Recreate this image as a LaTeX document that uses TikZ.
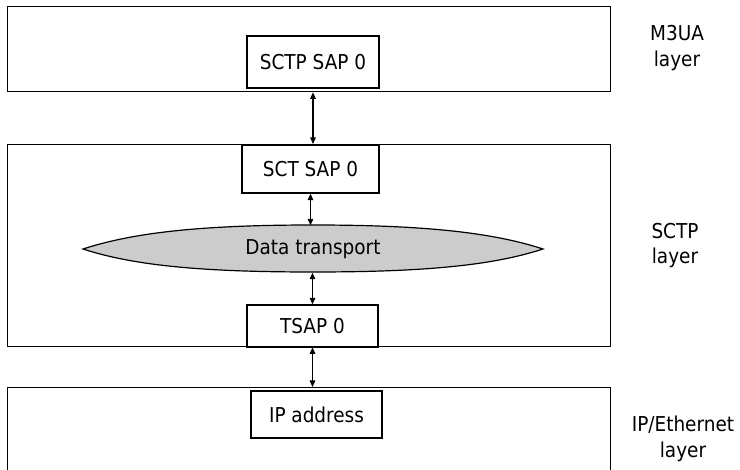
\documentclass[tikz,border=0pt]{standalone}
\usepackage{fontspec}
\setmainfont{DejaVu Sans Condensed}
\usetikzlibrary{arrows.meta}
\begin{document}
\begin{tikzpicture}[x=1pt,y=-1pt,
  font=\fontsize{20.5}{24}\selectfont,
  layerbox/.style={draw, line width=1.3pt, anchor=north west, inner sep=0pt},
  sapbox/.style={draw, line width=1.3pt, inner sep=0pt, fill=white},
  link/.style={{Triangle[length=6.5pt,width=5.5pt]}-{Triangle[length=6.5pt,width=5.5pt]}, line width=1.2pt},
  side/.style={align=center, anchor=base, font=\fontsize{20.5}{25.8}\selectfont}]
\clip (0,0) rectangle (740,470);

% protocol layers
\node[layerbox, minimum width=603pt, minimum height=85pt]  (m3ua)    at (7,6)   {};
\node[layerbox, minimum width=603pt, minimum height=202pt] (sctp)    at (7,144) {};
\node[layerbox, minimum width=603pt, minimum height=100pt] (iplayer) at (7,387) {};

% data transport lens
\path[draw, fill=black!20, line width=1.2pt]
  (83,249) .. controls (135,232) and (205,225) .. (313,225)
  .. controls (421,225) and (491,232) .. (543,249)
  .. controls (491,266) and (421,272) .. (313,272)
  .. controls (205,272) and (135,266) .. (83,249) -- cycle;
\node[minimum width=460pt, minimum height=47pt, inner sep=0pt] (dt) at (313,249) {Data transport};

% service access points
\node[sapbox, minimum width=132pt, minimum height=52pt] (sctpsap) at (313,62)    {SCTP SAP 0};
\node[sapbox, minimum width=137pt, minimum height=48pt] (sctsap)  at (310.5,169) {SCT SAP 0};
\node[sapbox, minimum width=131pt, minimum height=42pt] (tsap)    at (312.5,326) {TSAP 0};
\node[sapbox, minimum width=131pt, minimum height=47pt] (ipaddr)  at (316.5,414.5) {IP address};

% connections
\draw[link] (m3ua.south -| sctpsap) -- (sctp.north -| sctpsap);
\draw[link] (sctsap.south) -- (sctsap.south |- dt.north);
\draw[link] (dt.south -| tsap) -- (tsap.north);
\draw[link] (sctp.south -| tsap) -- (iplayer.north -| tsap);

% layer names (anchored on the baseline of the second line)
\node[side] (m3ualbl) at (677,66.7)  {M3UA\\layer};
\node[side] (sctplbl) at (675,264)   {SCTP\\layer};
\node[side] (iplbl)   at (683,457.7) {IP/Ethernet\\layer};
\end{tikzpicture}
\end{document}
